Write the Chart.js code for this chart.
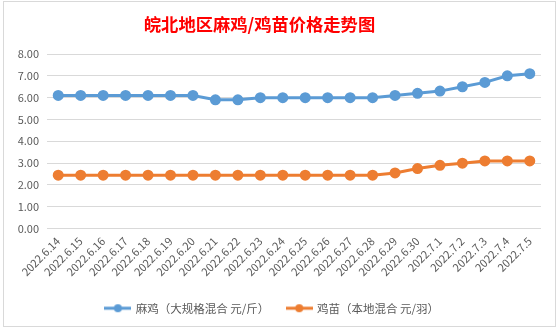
<!DOCTYPE html>
<html lang="zh">
<head>
    <meta charset="UTF-8">
    <title>皖北地区麻鸡/鸡苗价格走势图</title>
    <script src="https://cdn.jsdelivr.net/npm/chart.js"></script>
    <style>
        html, body { margin: 0; padding: 0; background: #ffffff; overflow: hidden; }
        #box {
            position: absolute; left: 3px; top: 1px;
            width: 553px; height: 326px;
            border: 1px solid #d9d9d9; box-sizing: border-box;
        }
        #title {
            position: absolute; left: 0; top: 11px; width: 511px;
            text-align: center; color: #ff0000;
            font: bold 17.3px "Noto Sans CJK SC", sans-serif;
            line-height: 22px;
        }
        #priceChart { display: block; }
    </style>
</head>
<body>
    <div id="box">
        <canvas id="priceChart" width="551" height="322"></canvas>
        <div id="title">皖北地区麻鸡/鸡苗价格走势图</div>
    </div>

    <script>
        // dates on the category axis
        const dates = [
            '2022.6.14', '2022.6.15', '2022.6.16', '2022.6.17', '2022.6.18', '2022.6.19',
            '2022.6.20', '2022.6.21', '2022.6.22', '2022.6.23', '2022.6.24', '2022.6.25',
            '2022.6.26', '2022.6.27', '2022.6.28', '2022.6.29', '2022.6.30', '2022.7.1',
            '2022.7.2', '2022.7.3', '2022.7.4', '2022.7.5'
        ];

        // 麻鸡 price, 元/斤
        const chickenPrice = [
            6.1, 6.1, 6.1, 6.1, 6.1, 6.1, 6.1, 5.9, 5.9, 6.0, 6.0,
            6.0, 6.0, 6.0, 6.0, 6.1, 6.2, 6.3, 6.5, 6.7, 7.0, 7.1
        ];

        // 鸡苗 price, 元/羽
        const chickPrice = [
            2.45, 2.45, 2.45, 2.45, 2.45, 2.45, 2.45, 2.45, 2.45, 2.45, 2.45,
            2.45, 2.45, 2.45, 2.45, 2.55, 2.75, 2.9, 3.0, 3.1, 3.1, 3.1
        ];

        const yTicks = [0, 1, 2, 3, 4, 5, 6, 7, 8];

        const blue = '#5b9bd5';
        const orange = '#ed7d31';
        const textGrey = '#595959';
        const fontFamily = '"Noto Sans CJK SC", "Noto Sans", sans-serif';

        // little "line with dot" marker for the legend
        function legendMarker(color) {
            const c = document.createElement('canvas');
            c.width = 27; c.height = 10;
            const g = c.getContext('2d');
            g.strokeStyle = color; g.lineWidth = 3;
            g.beginPath(); g.moveTo(0, 5); g.lineTo(27, 5); g.stroke();
            g.fillStyle = color;
            g.beginPath(); g.arc(13.5, 5, 4, 0, Math.PI * 2); g.fill();
            return c;
        }
        const markers = [legendMarker(blue), legendMarker(orange)];

        const ctx = document.getElementById('priceChart').getContext('2d');
        new Chart(ctx, {
            type: 'line',
            data: {
                labels: dates,
                datasets: [{
                    label: '麻鸡（大规格混合 元/斤）',
                    data: chickenPrice,
                    borderColor: blue,
                    backgroundColor: blue,
                    borderWidth: 3,
                    pointRadius: 4,
                    pointHoverRadius: 4,
                    fill: false
                }, {
                    label: '鸡苗（本地混合 元/羽）',
                    data: chickPrice,
                    borderColor: orange,
                    backgroundColor: orange,
                    borderWidth: 3,
                    pointRadius: 4,
                    pointHoverRadius: 4,
                    fill: false
                }]
            },
            options: {
                responsive: false,
                animation: false,
                layout: { padding: { left: 0, right: 14, top: 52, bottom: 0 } },
                plugins: {
                    title: { display: false },
                    legend: {
                        position: 'bottom',
                        labels: {
                            color: textGrey,
                            font: { family: fontFamily, size: 11.5 },
                            usePointStyle: true,
                            pointStyleWidth: 24,
                            boxHeight: 10,
                            padding: 18,
                            generateLabels(chart) {
                                return chart.data.datasets.map((ds, i) => ({
                                    text: ds.label,
                                    fontColor: textGrey,
                                    pointStyle: markers[i],
                                    lineWidth: 0,
                                    strokeStyle: ds.borderColor,
                                    fillStyle: ds.borderColor,
                                    datasetIndex: i
                                }));
                            }
                        }
                    },
                    tooltip: { enabled: false }
                },
                scales: {
                    x: {
                        offset: true,
                        grid: { display: false, drawTicks: false, offset: true },
                        border: { display: false },
                        ticks: {
                            color: textGrey,
                            font: { family: fontFamily, size: 11 },
                            minRotation: 45,
                            maxRotation: 45,
                            autoSkip: false,
                            padding: 6
                        }
                    },
                    y: {
                        min: 0,
                        max: 8,
                        afterBuildTicks(axis) {
                            axis.ticks = yTicks.map(v => ({ value: v }));
                        },
                        afterFit(axis) { axis.width = 43; },
                        grid: { color: '#d9d9d9', lineWidth: 1, drawTicks: false },
                        border: { display: false },
                        ticks: {
                            color: textGrey,
                            font: { family: fontFamily, size: 11 },
                            padding: 8,
                            callback: v => Number(v).toFixed(2)
                        }
                    }
                }
            }
        });
    </script>
</body>
</html>
